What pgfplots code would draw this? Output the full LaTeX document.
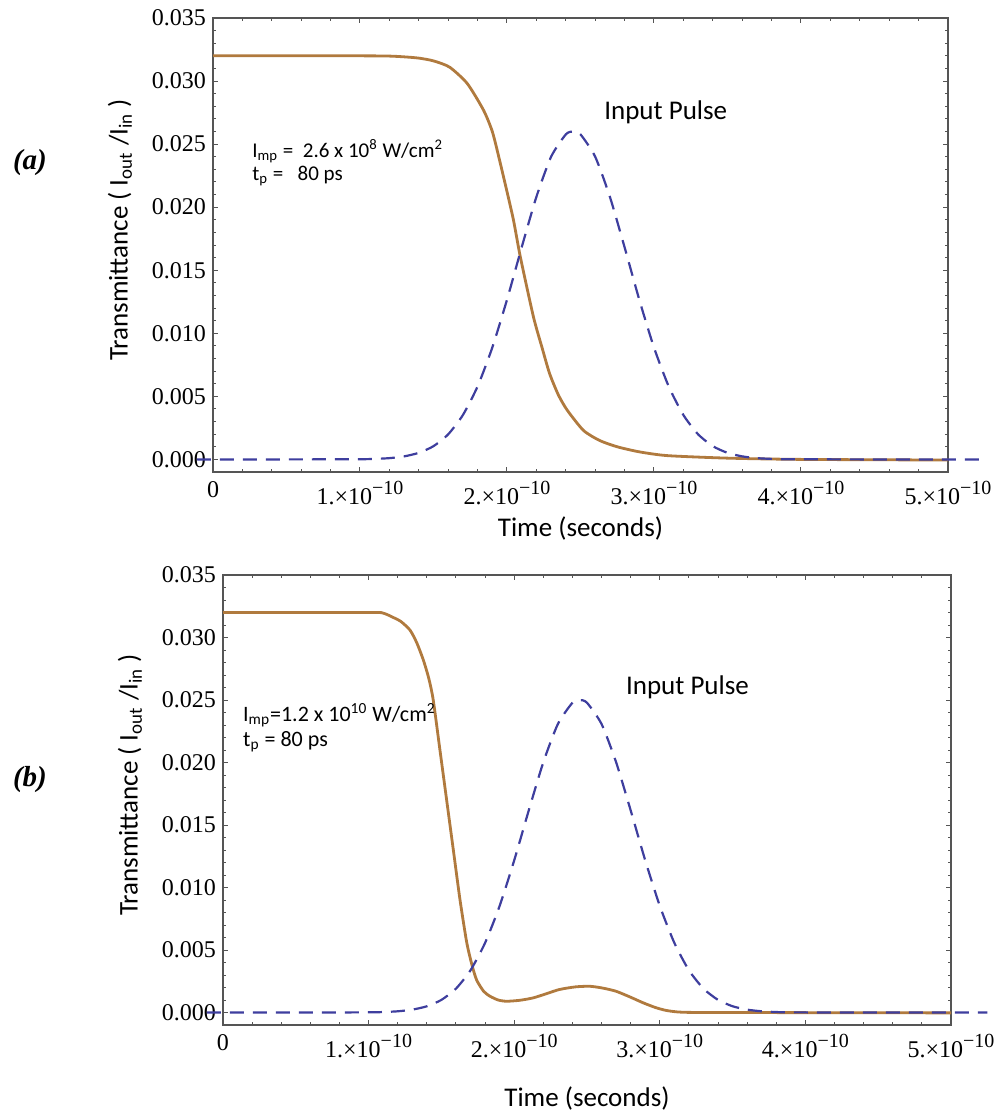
\documentclass[border=0pt]{standalone}
\usepackage{fontspec}
\setmainfont{Carlito}
\newfontfamily\tickfont{Liberation Serif}
\usepackage{pgfplots}
\pgfplotsset{compat=1.18}
\definecolor{brownline}{RGB}{176,122,62}
\definecolor{pulseblue}{RGB}{62,62,158}
\definecolor{framegray}{RGB}{85,85,85}

\newcommand{\sci}[1]{#1.×10\raisebox{0.42em}{\fontsize{10}{10}\selectfont −10}}

\pgfplotstableread{
t T
0 0.0320
1.0e-10 0.0320
1.2e-10 0.03198
1.3e-10 0.03192
1.4e-10 0.03182
1.5e-10 0.0316
1.61e-10 0.0311
1.73e-10 0.0298
1.84e-10 0.0277
1.90e-10 0.0260
1.95e-10 0.0237
2.04e-10 0.0192
2.09e-10 0.0161
2.18e-10 0.0113
2.24e-10 0.0088
2.29e-10 0.0068
2.35e-10 0.0051
2.41e-10 0.0039
2.52e-10 0.0023
2.63e-10 0.0015
2.75e-10 0.0010
2.9e-10 0.0006
3.09e-10 0.0003
3.5e-10 0.0001
4.0e-10 0.0000
5.0e-10 -0.00005
}\topbrown

\pgfplotstableread{
t P
-0.11e-10 0
0.5e-10 0
1.0e-10 0.000015
1.1e-10 0.00004
1.2e-10 0.0001
1.3e-10 0.00024
1.4e-10 0.00052
1.5e-10 0.00105
1.6e-10 0.00199
1.7e-10 0.00352
1.8e-10 0.00579
1.9e-10 0.00887
2.0e-10 0.01266
2.1e-10 0.01682
2.2e-10 0.02082
2.3e-10 0.0240
2.4e-10 0.02577
2.45e-10 0.0260
2.5e-10 0.02577
2.6e-10 0.0240
2.7e-10 0.02082
2.8e-10 0.01682
2.9e-10 0.01266
3.0e-10 0.00887
3.1e-10 0.00579
3.2e-10 0.00352
3.3e-10 0.00199
3.4e-10 0.00105
3.5e-10 0.00052
3.6e-10 0.00024
3.7e-10 0.0001
3.8e-10 0.00004
3.9e-10 0.000015
4.4e-10 0
5.25e-10 0
}\toppulse

\pgfplotstableread{
t T
0 0.0320
1.0e-10 0.0320
1.1e-10 0.03195
1.17e-10 0.0316
1.22e-10 0.0313
1.284e-10 0.0306
1.33e-10 0.0296
1.376e-10 0.0282
1.414e-10 0.0267
1.444e-10 0.0250
1.49e-10 0.0210
1.536e-10 0.0170
1.582e-10 0.0130
1.628e-10 0.0090
1.674e-10 0.0056
1.71e-10 0.0038
1.742e-10 0.0026
1.79e-10 0.0017
1.834e-10 0.0013
1.89e-10 0.00100
1.948e-10 0.0009
2.04e-10 0.00098
2.13e-10 0.00117
2.22e-10 0.00150
2.31e-10 0.00184
2.42e-10 0.00205
2.52e-10 0.0021
2.61e-10 0.00195
2.70e-10 0.0017
2.80e-10 0.00122
2.887e-10 0.00077
2.97e-10 0.00040
3.047e-10 0.00016
3.16e-10 0.00002
3.5e-10 0.0
5.0e-10 -0.00003
}\botbrown

\pgfplotstableread{
t P
-0.11e-10 0
0.5e-10 0
1.0e-10 0.000014
1.1e-10 0.000038
1.2e-10 0.000097
1.3e-10 0.00023
1.4e-10 0.0005
1.5e-10 0.00101
1.6e-10 0.00191
1.7e-10 0.00338
1.8e-10 0.00557
1.9e-10 0.00853
2.0e-10 0.01217
2.1e-10 0.01617
2.2e-10 0.02002
2.3e-10 0.02308
2.4e-10 0.02478
2.45e-10 0.0250
2.5e-10 0.02478
2.6e-10 0.02308
2.7e-10 0.02002
2.8e-10 0.01617
2.9e-10 0.01217
3.0e-10 0.00853
3.1e-10 0.00557
3.2e-10 0.00338
3.3e-10 0.00191
3.4e-10 0.00101
3.5e-10 0.0005
3.6e-10 0.00023
3.7e-10 0.000097
3.8e-10 0.000038
3.9e-10 0.000014
4.4e-10 0
5.25e-10 0
}\botpulse

\pgfplotsset{
  mystyle/.style={
    scale only axis,
    xmin=0, xmax=5e-10, ymin=-0.001, ymax=0.035,
    scaled x ticks=false, scaled y ticks=false,
    xtick={0,1e-10,2e-10,3e-10,4e-10,5e-10},
    xticklabels={0,\sci{1},\sci{2},\sci{3},\sci{4},\sci{5}},
    ytick={0,0.005,0.01,0.015,0.02,0.025,0.03,0.035},
    yticklabels={0.000,0.005,0.010,0.015,0.020,0.025,0.030,0.035},
    minor x tick num=4, minor y tick num=4,
    tick align=inside,
    major tick length=2.6pt, minor tick length=1.5pt,
    axis line style={framegray, line width=0.7pt},
    every tick/.style={framegray, line width=0.5pt},
    ticklabel style={font=\tickfont\fontsize{12}{12}\selectfont, text=black},
    xticklabel style={yshift=-1pt},
    clip=false,
  }
}

\begin{document}
\begin{tikzpicture}
\useasboundingbox (0pt,0pt) rectangle (500pt,-557.5pt);
% ---------- (a) ----------
\begin{axis}[mystyle, at={(106.5pt,-236pt)}, anchor=south west, width=367.5pt, height=227pt]
\addplot[brownline, line width=1.4pt, smooth, tension=0.4] table[x=t,y=T] {\topbrown};
\addplot[pulseblue, line width=1.1pt, dash pattern=on 7pt off 4.5pt, smooth, tension=0.4] table[x=t,y=P] {\toppulse};
\node[anchor=west, align=left, font=\fontsize{10.5}{11.5}\selectfont] at (axis cs:0.22e-10,0.0235)
  {I\textsubscript{mp} =\ \ 2.6 x 10\textsuperscript{8} W/cm\textsuperscript{2}\\ t\textsubscript{p} =\ \ \ 80 ps};
\node[font=\fontsize{13.5}{14}\selectfont] at (axis cs:3.08e-10,0.0275) {Input Pulse};
\path (rel axis cs:0.5,0) ++(0pt,-28pt) node[font=\fontsize{13.5}{14}\selectfont] {Time (seconds)};
\path (rel axis cs:0,0.5) ++(-46.5pt,7.5pt) node[rotate=90, font=\fontsize{13.5}{14}\selectfont] {Transmittance ( I\textsubscript{out} /I\textsubscript{in} )};
\end{axis}
% ---------- (b) ----------
\begin{axis}[mystyle, at={(111.5pt,-512.5pt)}, anchor=south west, width=364pt, height=225pt]
\addplot[brownline, line width=1.4pt, smooth, tension=0.4] table[x=t,y=T] {\botbrown};
\addplot[pulseblue, line width=1.1pt, dash pattern=on 7pt off 4.5pt, smooth, tension=0.4] table[x=t,y=P] {\botpulse};
\node[anchor=west, align=left, font=\fontsize{11}{12.5}\selectfont] at (axis cs:0.09e-10,0.0228)
  {I\textsubscript{mp}=1.2 x 10\textsuperscript{10} W/cm\textsuperscript{2}\\ t\textsubscript{p} = 80 ps};
\node[font=\fontsize{13.5}{14}\selectfont] at (axis cs:3.19e-10,0.0260) {Input Pulse};
\path (rel axis cs:0.5,0) ++(0pt,-36.5pt) node[font=\fontsize{13.5}{14}\selectfont] {Time (seconds)};
\path (rel axis cs:0,0.5) ++(-46.5pt,7.5pt) node[rotate=90, font=\fontsize{13.5}{14}\selectfont] {Transmittance ( I\textsubscript{out} /I\textsubscript{in} )};
\end{axis}
\node[font=\tickfont\bfseries\itshape\fontsize{14.5}{15}\selectfont] at (15pt,-81.5pt) {(a)};
\node[font=\tickfont\bfseries\itshape\fontsize{14.5}{15}\selectfont] at (15pt,-390pt) {(b)};
\end{tikzpicture}
\end{document}
